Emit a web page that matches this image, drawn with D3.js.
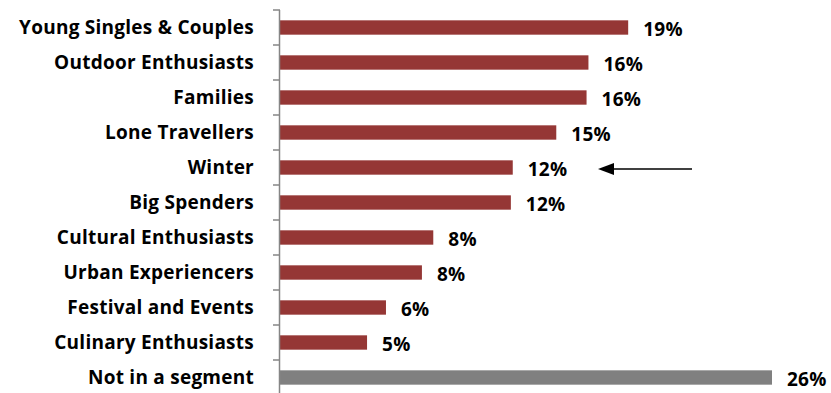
<!DOCTYPE html>
<html>
<head>
<meta charset="utf-8">
<script src="https://cdn.jsdelivr.net/npm/d3@7"></script>
<style>
  body { margin: 0; background: #fff; }
  text { font-family: "Open Sans", Lato, sans-serif; font-weight: bold; fill: #000; letter-spacing: 0.25px; }
</style>
</head>
<body>
<svg id="chart" width="831" height="393"></svg>
<script>
const categories = [
  'Young Singles & Couples', 'Outdoor Enthusiasts', 'Families', 'Lone Travellers',
  'Winter', 'Big Spenders', 'Cultural Enthusiasts', 'Urban Experiencers',
  'Festival and Events', 'Culinary Enthusiasts', 'Not in a segment'
]
const values = [18.4, 16.3, 16.2, 14.6, 12.3, 12.2, 8.1, 7.5, 5.6, 4.6, 26.0]
const valueLabels = ['19%', '16%', '16%', '15%', '12%', '12%', '8%', '8%', '6%', '5%', '26%']
const highlighted = 'Winter'

const svg = d3.select('#chart')
const left = 280
const x = d3.scaleLinear().domain([0, 26]).range([left, 772])
const y = d3.scaleBand().domain(categories).range([10, 395]).paddingInner(0.59).paddingOuter(0.295)

// bars
svg.selectAll('rect.bar')
  .data(categories)
  .enter().append('rect')
  .attr('class', 'bar')
  .attr('x', x(0))
  .attr('y', d => y(d))
  .attr('width', (d, i) => x(values[i]) - x(0))
  .attr('height', y.bandwidth())
  .attr('fill', d => d === 'Not in a segment' ? '#808080' : '#953735')

// axis line + ticks between categories
const axis = svg.append('g')
axis.append('line')
  .attr('x1', left - 0.5).attr('x2', left - 0.5)
  .attr('y1', 10).attr('y2', 395)
  .attr('stroke', '#868686').attr('stroke-width', 1.5)
const step = y.step()
axis.selectAll('line.tick')
  .data(d3.range(categories.length + 1))
  .enter().append('line')
  .attr('x1', left - 7).attr('x2', left)
  .attr('y1', i => 10 + i * step).attr('y2', i => 10 + i * step)
  .attr('stroke', '#868686').attr('stroke-width', 1.5)

// category labels
svg.selectAll('text.cat')
  .data(categories)
  .enter().append('text')
  .attr('class', 'cat')
  .attr('x', 254)
  .attr('y', d => y(d) + y.bandwidth() / 2)
  .attr('dy', '0.36em')
  .attr('text-anchor', 'end')
  .attr('font-size', 19)
  .text(d => d)

// value labels
svg.selectAll('text.val')
  .data(categories)
  .enter().append('text')
  .attr('class', 'val')
  .attr('x', (d, i) => x(values[i]) + 15)
  .attr('y', d => y(d) + y.bandwidth() / 2 + 2)
  .attr('dy', '0.36em')
  .attr('font-size', 19)
  .text((d, i) => valueLabels[i])

// arrow pointing at the highlighted segment
const ay = y(highlighted) + y.bandwidth() / 2 + 1.5
const tip = 598
svg.append('line')
  .attr('x1', 692).attr('x2', tip + 10)
  .attr('y1', ay).attr('y2', ay)
  .attr('stroke', '#000').attr('stroke-width', 1.5)
svg.append('path')
  .attr('d', d3.line()([[tip, ay], [tip + 16, ay - 6], [tip + 16, ay + 6]]) + 'Z')
  .attr('fill', '#000')
</script>
</body>
</html>
